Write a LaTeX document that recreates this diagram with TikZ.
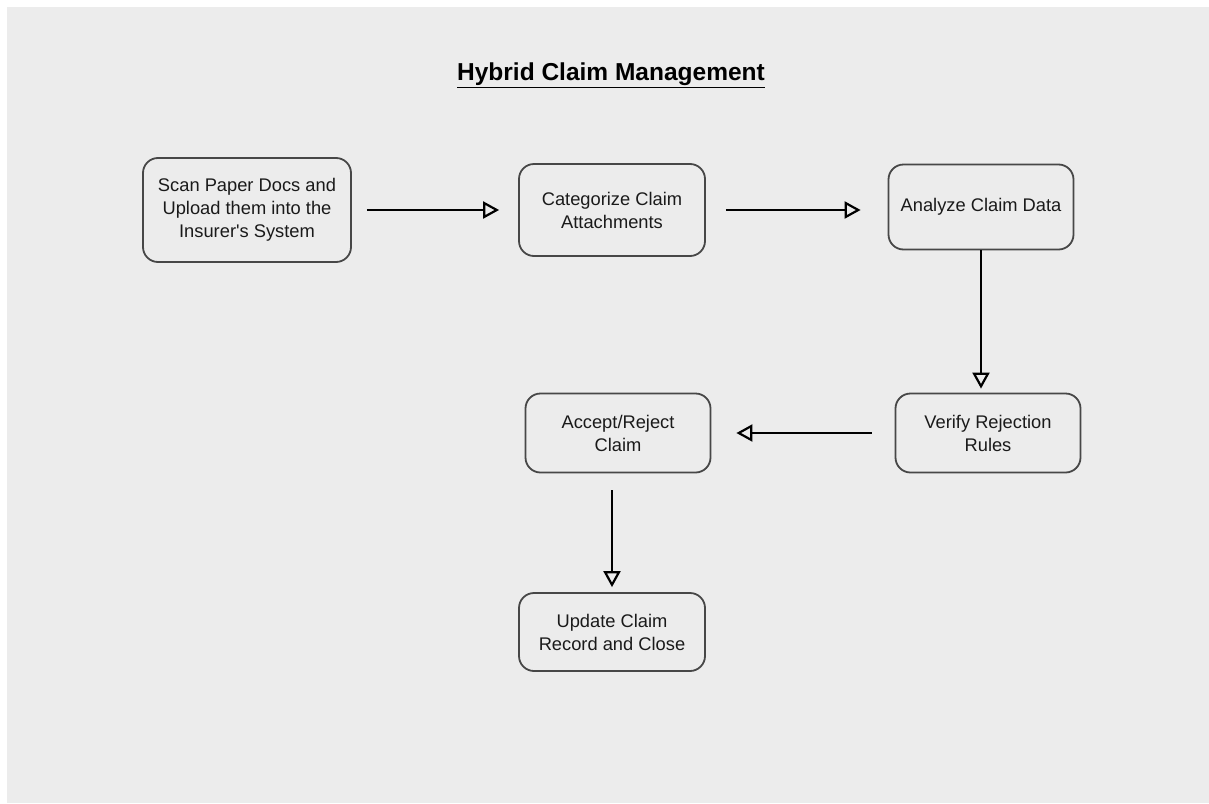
\documentclass[tikz,border=0pt]{standalone}
\usepackage{fontspec}
\setmainfont{Liberation Sans}
\newfontfamily\boxfont{Liberation Sans}
\usetikzlibrary{arrows.meta}
\definecolor{bgrey}{HTML}{ECECEC}
\definecolor{edgegrey}{HTML}{474747}
\definecolor{txtgrey}{HTML}{1A1A1A}
\begin{document}
\begin{tikzpicture}[x=1pt, y=-1pt,
    stepbox/.style={draw=edgegrey, line width=1.8pt, rounded corners=15pt, align=center,
      text=txtgrey, font=\boxfont\fontsize{18.3}{23}\selectfont, inner sep=0pt},
    flow/.style={line width=2.6pt, -{Triangle[open, length=16pt, width=17pt, line width=2.2pt]}}]

    \useasboundingbox (0,0) rectangle (1209,803);
    \fill[white] (0,0) rectangle (1209,803);
    \fill[bgrey] (7,7) rectangle (1209,803);

    \node[font=\fontsize{24.5}{28}\selectfont\bfseries, text=black] (title) at (611,75) {\underline{Hybrid Claim Management}};

    \node[stepbox, minimum width=208pt, minimum height=104pt] (scan) at (247,210) {Scan Paper Docs and\\Upload them into the\\Insurer's System};
    \node[stepbox, minimum width=186pt, minimum height=92pt] (cat) at (612,210) {Categorize Claim\\Attachments};
    \node[stepbox, minimum width=185pt, minimum height=85pt] (ana) at (981,207) {Analyze Claim Data};
    \node[stepbox, minimum width=185pt, minimum height=79pt] (ver) at (988,433) {Verify Rejection\\Rules};
    \node[stepbox, minimum width=185pt, minimum height=79pt] (acc) at (618,433) {Accept/Reject\\Claim};
    \node[stepbox, minimum width=186pt, minimum height=78pt] (upd) at (612,632) {Update Claim\\Record and Close};

    \draw[flow, shorten <=15pt, shorten >=19pt] (scan.east) -- (scan.east -| cat.west);
    \draw[flow, shorten <=20pt, shorten >=27pt] (cat.east) -- (cat.east -| ana.west);
    \draw[flow, shorten >=4pt] (ana.south) -- (ana.south |- ver.north);
    \draw[flow, shorten <=23pt, shorten >=25pt] (ver.west) -- (acc.east);
    \draw[flow, shorten <=17pt, shorten >=5pt] (upd.north |- acc.south) -- (upd.north);
\end{tikzpicture}
\end{document}
